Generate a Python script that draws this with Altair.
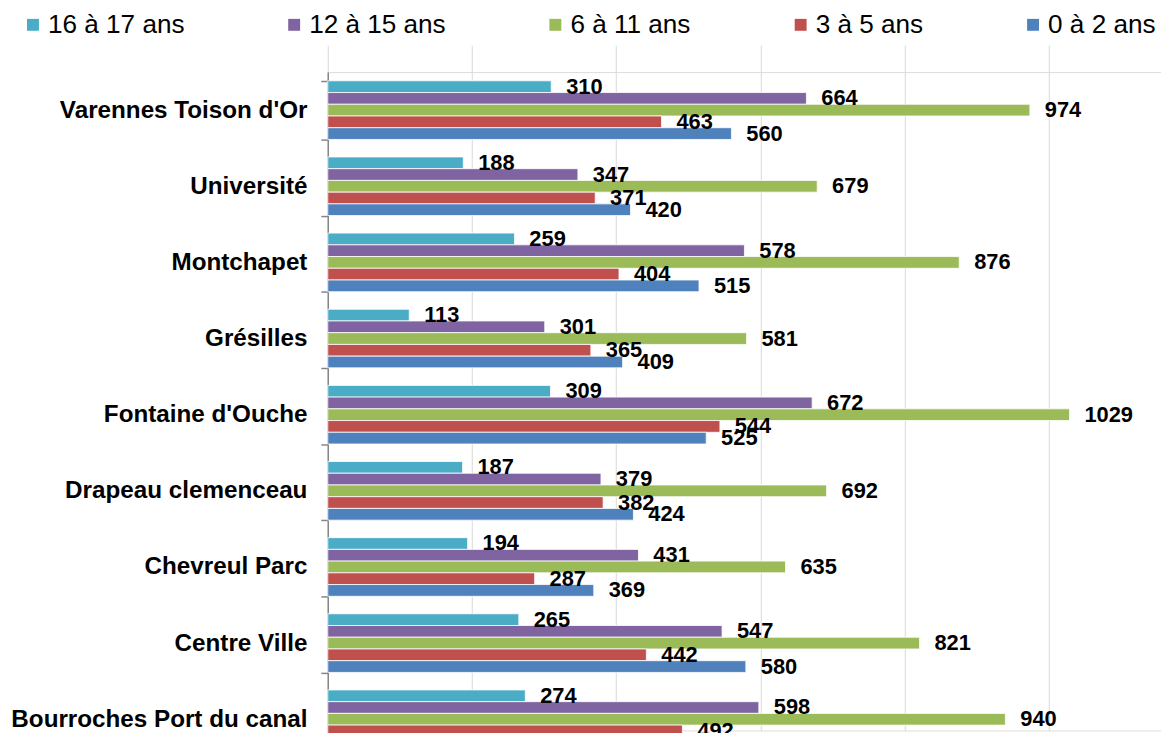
import altair as alt
import pandas as pd

categories = [
    "Varennes Toison d'Or",
    "Université",
    "Montchapet",
    "Grésilles",
    "Fontaine d'Ouche",
    "Drapeau clemenceau",
    "Chevreul Parc",
    "Centre Ville",
    "Bourroches Port du canal",
]
series = ["16 à 17 ans", "12 à 15 ans", "6 à 11 ans", "3 à 5 ans", "0 à 2 ans"]
colors = ["#4BACC6", "#8064A2", "#9BBB59", "#C0504D", "#4F81BD"]

v16_17 = [310, 188, 259, 113, 309, 187, 194, 265, 274]
v12_15 = [664, 347, 578, 301, 672, 379, 431, 547, 598]
v6_11 = [974, 679, 876, 581, 1029, 692, 635, 821, 940]
v3_5 = [463, 371, 404, 365, 544, 382, 287, 442, 492]
v0_2 = [560, 420, 515, 409, 525, 424, 369, 580, 559]
x_ticks = [0, 200, 400, 600, 800, 1000, 1200]

rows = []
for i, c in enumerate(categories):
    for s, vals in zip(series, [v16_17, v12_15, v6_11, v3_5, v0_2]):
        rows.append({"quartier": c, "tranche": s, "valeur": vals[i]})
df = pd.DataFrame(rows)

FONT = "Liberation Sans"

y = alt.Y(
    "quartier:N",
    sort=categories,
    scale=alt.Scale(paddingInner=0.23, paddingOuter=0.115, range=[0, 690]),
    axis=alt.Axis(
        title=None,
        labelFont=FONT,
        labelFontWeight="bold",
        labelFontSize=24.4,
        labelColor="black",
        labelPadding=14,
        labelLimit=0,
        tickSize=7,
        tickColor="#868686",
        tickWidth=1.5,
        domainColor="#868686",
        domainWidth=1.5,
        tickBand="extent",
        grid=False,
    ),
)
yoff = alt.YOffset("tranche:N", sort=series, scale=alt.Scale(paddingInner=0, paddingOuter=0))
x = alt.X(
    "valeur:Q",
    scale=alt.Scale(domain=[0, 1200], nice=False, range=[0, 871]),
    axis=alt.Axis(
        title=None,
        values=x_ticks,
        grid=True,
        gridColor="#D9D9D9",
        gridWidth=1,
        domain=False,
        ticks=False,
        labels=False,
    ),
)
color = alt.Color(
    "tranche:N",
    sort=series,
    scale=alt.Scale(domain=series, range=colors),
    legend=alt.Legend(
        title=None,
        orient="none",
        legendX=-310,
        legendY=-61,
        direction="horizontal",
        symbolType="square",
        symbolSize=144,
        symbolStrokeWidth=0,
        labelFont=FONT,
        labelFontSize=26.3,
        labelColor="black",
        labelOffset=2,
        columnPadding=97,
        padding=0,
    ),
)

base = alt.Chart(df)
bars = base.mark_bar(stroke="white", strokeWidth=0.8).encode(x=x, y=y, yOffset=yoff, color=color)
texts = base.mark_text(
    align="left", baseline="middle", dx=15, font=FONT, fontWeight="bold", fontSize=22, color="black"
).encode(x=x, y=y, yOffset=yoff, text=alt.Text("valeur:Q", format="d"))

chart = (
    alt.layer(bars, texts)
    .properties(
        width=839,
        height=663,
        autosize=alt.AutoSizeParams(type="none"),
        padding={"left": 322, "top": 62, "right": 0, "bottom": 0},
    )
    .configure_view(stroke=None)
    .configure(background="white")
)

chart.save("out.html", embed_options={"renderer": "svg", "actions": False})
